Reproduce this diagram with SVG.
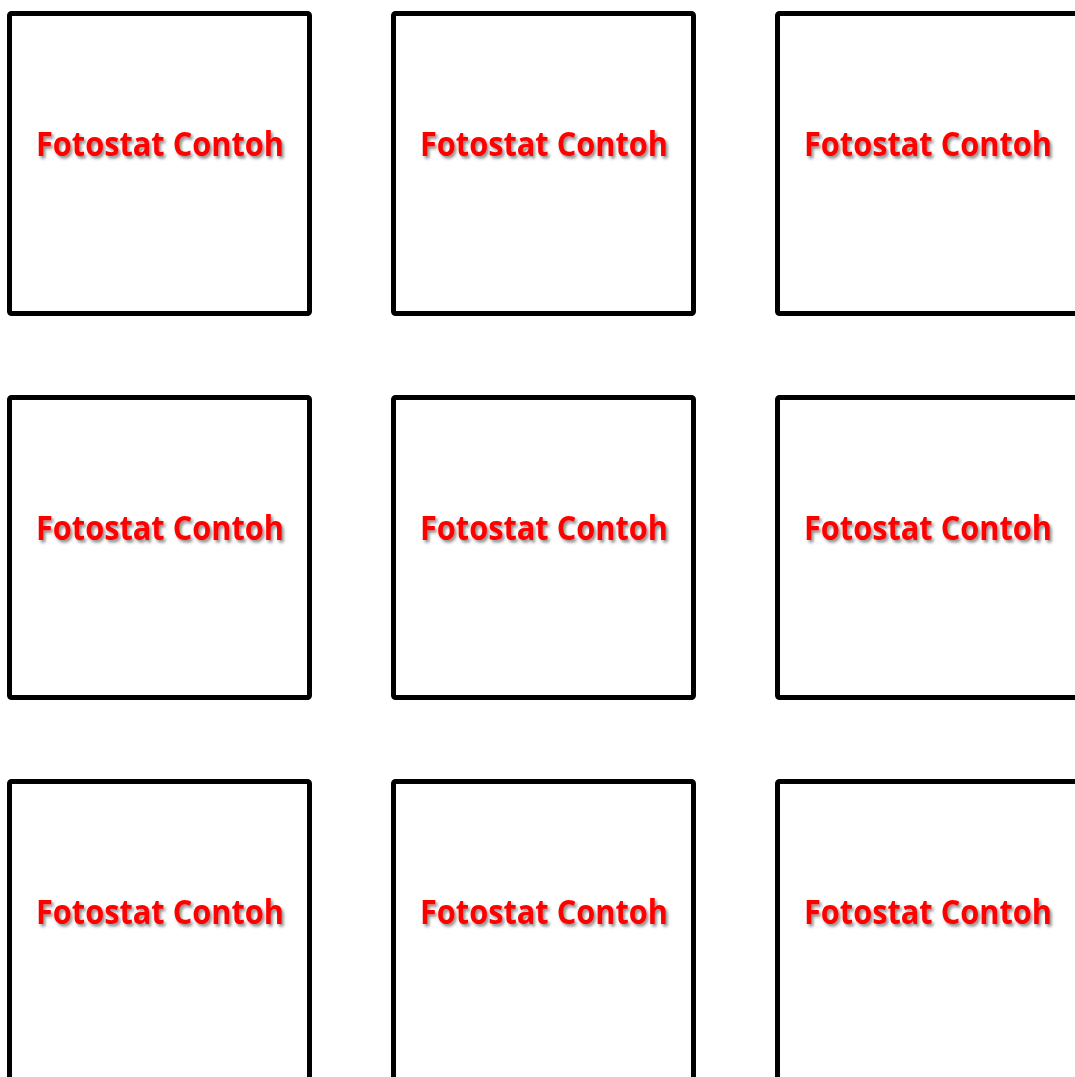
<svg xmlns="http://www.w3.org/2000/svg" width="1075" height="1077" viewBox="0 0 1075 1077">
<defs>
<filter id="sh" x="-10%" y="-50%" width="120%" height="200%">
<feDropShadow dx="2" dy="2.5" stdDeviation="1.5" flood-color="#000" flood-opacity="0.45"/>
</filter>
<style>
.box{fill:#fff;stroke:#000;stroke-width:5}
.lbl{font-family:"Open Sans",Lato,"Liberation Sans",sans-serif;font-weight:700;font-size:34px;fill:#ff0000;text-anchor:middle;filter:url(#sh)}
</style>
</defs>
<rect width="1075" height="1077" fill="#fff"/>
<g id="n1"><rect class="box" x="9.5" y="13.5" width="300" height="300" rx="2"/><text class="lbl" x="160" y="156" textLength="248" lengthAdjust="spacingAndGlyphs">Fotostat Contoh</text></g>
<g id="n2"><rect class="box" x="393.5" y="13.5" width="300" height="300" rx="2"/><text class="lbl" x="544" y="156" textLength="248" lengthAdjust="spacingAndGlyphs">Fotostat Contoh</text></g>
<g id="n3"><rect class="box" x="777.5" y="13.5" width="300" height="300" rx="2"/><text class="lbl" x="928" y="156" textLength="248" lengthAdjust="spacingAndGlyphs">Fotostat Contoh</text></g>
<g id="n4"><rect class="box" x="9.5" y="397.5" width="300" height="300" rx="2"/><text class="lbl" x="160" y="540" textLength="248" lengthAdjust="spacingAndGlyphs">Fotostat Contoh</text></g>
<g id="n5"><rect class="box" x="393.5" y="397.5" width="300" height="300" rx="2"/><text class="lbl" x="544" y="540" textLength="248" lengthAdjust="spacingAndGlyphs">Fotostat Contoh</text></g>
<g id="n6"><rect class="box" x="777.5" y="397.5" width="300" height="300" rx="2"/><text class="lbl" x="928" y="540" textLength="248" lengthAdjust="spacingAndGlyphs">Fotostat Contoh</text></g>
<g id="n7"><rect class="box" x="9.5" y="781.5" width="300" height="300" rx="2"/><text class="lbl" x="160" y="924" textLength="248" lengthAdjust="spacingAndGlyphs">Fotostat Contoh</text></g>
<g id="n8"><rect class="box" x="393.5" y="781.5" width="300" height="300" rx="2"/><text class="lbl" x="544" y="924" textLength="248" lengthAdjust="spacingAndGlyphs">Fotostat Contoh</text></g>
<g id="n9"><rect class="box" x="777.5" y="781.5" width="300" height="300" rx="2"/><text class="lbl" x="928" y="924" textLength="248" lengthAdjust="spacingAndGlyphs">Fotostat Contoh</text></g>
<g id="connectors"/>
</svg>
